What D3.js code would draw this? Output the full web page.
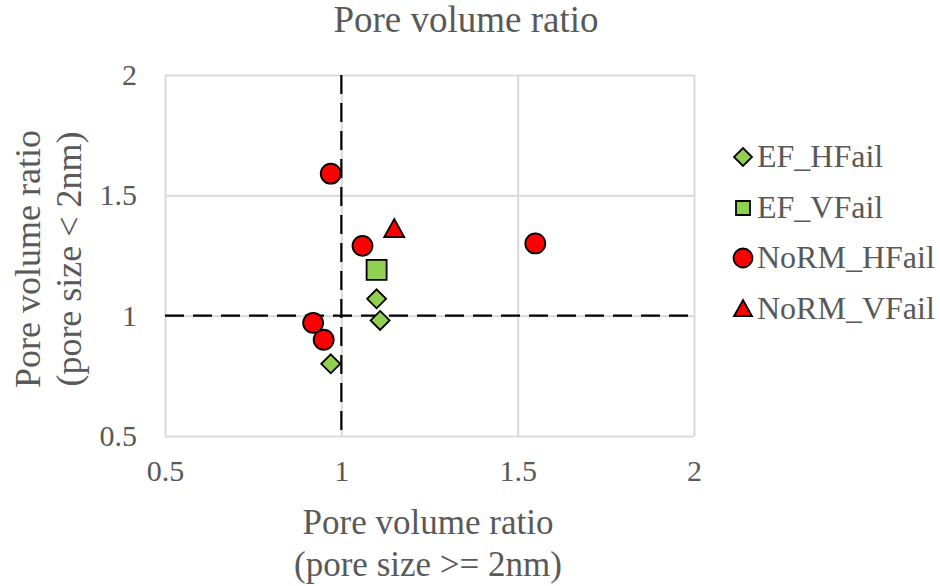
<!DOCTYPE html>
<html>
<head>
<meta charset="utf-8">
<script src="https://cdn.jsdelivr.net/npm/d3@7"></script>
<style>
  html, body { margin: 0; padding: 0; background: #fff; }
  svg text { font-family: "Liberation Serif", "Times New Roman", serif; fill: #595959; }
</style>
</head>
<body>
<svg id="chart" width="940" height="586"></svg>
<script>
// Pore volume ratios: x = pores >= 2nm, y = pores < 2nm
const efHFailX = [1.10, 1.11, 0.97];
const efHFailY = [1.07, 0.98, 0.80];
const efVFailX = [1.10];
const efVFailY = [1.19];
const normHFailX = [0.97, 1.06, 1.55, 0.92, 0.95];
const normHFailY = [1.59, 1.29, 1.30, 0.97, 0.90];
const normVFailX = [1.15];
const normVFailY = [1.36];

const seriesNames = ["EF_HFail", "EF_VFail", "NoRM_HFail", "NoRM_VFail"];
const xTicks = [0.5, 1, 1.5, 2];
const yTicks = [0.5, 1, 1.5, 2];
const refX = 1, refY = 1;

const zip = (xs, ys) => xs.map((x, i) => ({ x, y: ys[i] }));
const series = [
  { name: seriesNames[0], shape: "diamond",  fill: "#92d050", pts: zip(efHFailX, efHFailY) },
  { name: seriesNames[1], shape: "square",   fill: "#92d050", pts: zip(efVFailX, efVFailY) },
  { name: seriesNames[2], shape: "circle",   fill: "#ff0000", pts: zip(normHFailX, normHFailY) },
  { name: seriesNames[3], shape: "triangle", fill: "#ff0000", pts: zip(normVFailX, normVFailY) }
];

const svg = d3.select("#chart");
const pLeft = 165, pRight = 694, pTop = 75, pBottom = 436;
const x = d3.scaleLinear().domain([0.5, 2]).range([pLeft, pRight]);
const y = d3.scaleLinear().domain([0.5, 2]).range([pBottom, pTop]);

// marker paths centred at origin
function markerPath(shape, s) {
  switch (shape) {
    case "diamond":  return `M0,${-s}L${s},0L0,${s}L${-s},0Z`;
    case "square":   return `M${-s},${-s}H${s}V${s}H${-s}Z`;
    case "circle":   return `M${s},0A${s},${s} 0 1,1 ${-s},0A${s},${s} 0 1,1 ${s},0Z`;
    case "triangle": return `M0,${-s}L${s},${s * 0.8}L${-s},${s * 0.8}Z`;
  }
}
const plotSize = { diamond: 9.5, square: 10, circle: 10, triangle: 10 };
const legendSize = { diamond: 9, square: 7, circle: 9.5, triangle: 9 };

// title
svg.append("text").attr("x", 466).attr("y", 32).attr("text-anchor", "middle")
  .attr("font-size", 37).text("Pore volume ratio");

// grid
const grid = svg.append("g");
grid.append("g").attr("transform", `translate(0,${pBottom})`)
  .call(d3.axisBottom(x).tickValues(xTicks).tickSize(-(pBottom - pTop)).tickFormat(""))
  .call(g => g.select(".domain").remove())
  .call(g => g.selectAll("line").attr("stroke", "#d9d9d9").attr("stroke-width", 2));
grid.append("g").attr("transform", `translate(${pLeft},0)`)
  .call(d3.axisLeft(y).tickValues(yTicks).tickSize(-(pRight - pLeft)).tickFormat(""))
  .call(g => g.select(".domain").remove())
  .call(g => g.selectAll("line").attr("stroke", "#d9d9d9").attr("stroke-width", 2));

// tick labels
const xAxis = svg.append("g").attr("transform", `translate(0,${pBottom})`)
  .call(d3.axisBottom(x).tickValues(xTicks).tickSize(0).tickPadding(24).tickFormat(d3.format("")));
xAxis.select(".domain").remove();
xAxis.selectAll("text").attr("font-size", 30).attr("font-family", "Liberation Serif").attr("fill", "#595959");
const yAxis = svg.append("g").attr("transform", `translate(${pLeft},0)`)
  .call(d3.axisLeft(y).tickValues(yTicks).tickSize(0).tickPadding(28).tickFormat(d3.format("")));
yAxis.select(".domain").remove();
yAxis.selectAll("text").attr("font-size", 30).attr("font-family", "Liberation Serif").attr("fill", "#595959");

// reference lines at ratio = 1
svg.append("line").attr("x1", pLeft).attr("x2", pRight).attr("y1", y(refY)).attr("y2", y(refY))
  .attr("stroke", "#000").attr("stroke-width", 2.2).attr("stroke-dasharray", "19,9");
svg.append("line").attr("x1", x(refX)).attr("x2", x(refX)).attr("y1", pTop).attr("y2", pBottom)
  .attr("stroke", "#000").attr("stroke-width", 2.2).attr("stroke-dasharray", "19,9");

// points
series.forEach(s => {
  svg.append("g").selectAll("path").data(s.pts).join("path")
    .attr("transform", d => `translate(${x(d.x)},${y(d.y)})`)
    .attr("d", markerPath(s.shape, plotSize[s.shape]))
    .attr("fill", s.fill).attr("stroke", "#000").attr("stroke-width", 1.8);
});

// axis titles
const xt = svg.append("text").attr("text-anchor", "middle").attr("font-size", 35);
xt.append("tspan").attr("x", 428).attr("y", 534).text("Pore volume ratio");
xt.append("tspan").attr("x", 428).attr("y", 576).text("(pore size >= 2nm)");
const yt = svg.append("text").attr("text-anchor", "middle").attr("font-size", 36)
  .attr("transform", "translate(0,259) rotate(-90)");
yt.append("tspan").attr("x", 0).attr("y", 40).text("Pore volume ratio");
yt.append("tspan").attr("x", 0).attr("y", 81).text("(pore size < 2nm)");

// legend
const legendY = [157, 208, 258, 309];
const lg = svg.append("g");
series.forEach((s, i) => {
  const row = lg.append("g").attr("transform", `translate(743,${legendY[i]})`);
  row.append("path").attr("d", markerPath(s.shape, legendSize[s.shape]))
    .attr("fill", s.fill).attr("stroke", "#000").attr("stroke-width", 1.8);
  row.append("text").attr("x", 14).attr("y", 10).attr("font-size", 32).text(s.name);
});
</script>
</body>
</html>
